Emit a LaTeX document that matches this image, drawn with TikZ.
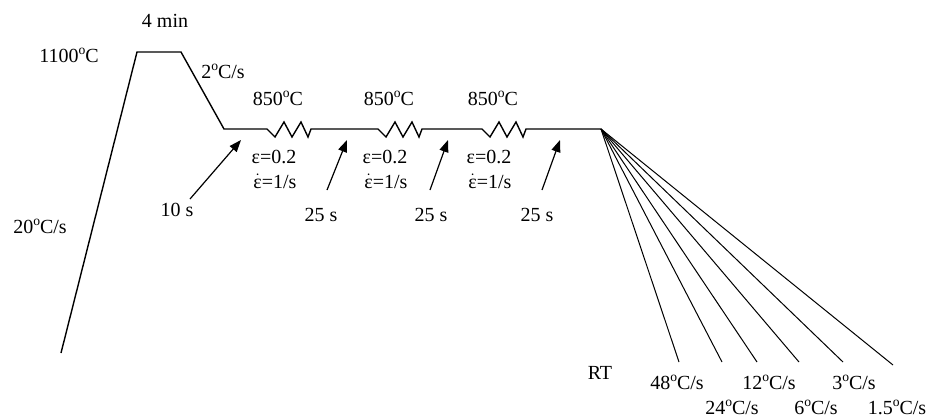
\documentclass[tikz,border=0pt]{standalone}
\usepackage{fontspec}
\setmainfont{Liberation Serif}
\usetikzlibrary{arrows.meta}
\newcommand{\dg}{\raisebox{0.4em}{\scalebox{0.68}{o}}}
\newcommand{\epsdot}{$\dot{\hbox{ε}}$}
\begin{document}
\begin{tikzpicture}[x=1bp,y=-1bp,
  profile/.style={line width=1.4bp, line join=miter},
  fanline/.style={line width=1bp},
  marker/.style={line width=1.2bp, -{Triangle[length=12bp,width=9bp]}},
  lbl/.style={anchor=base, inner sep=0pt, font=\fontsize{20bp}{24bp}\selectfont}]
\useasboundingbox (0,0) rectangle (930,419);

% key points of the thermal cycle
\coordinate (start) at (61,353);
\coordinate (top1) at (137,52);
\coordinate (top2) at (181,52);
\coordinate (hold) at (224,129);
\coordinate (qstart) at (601,129);

% heating, soaking, cooling to 850 and the three deformation passes
\draw[profile] (start) -- (top1) -- (top2) -- (hold) -- (267,129)
  -- (275,137) -- (284,122) -- (292,137) -- (301,122) -- (308,137) -- (311,129)
  -- (378,129)
  -- (386,137) -- (395,122) -- (403,137) -- (412,122) -- (419,137) -- (422,129)
  -- (482,129)
  -- (490,137) -- (499,122) -- (507,137) -- (516,122) -- (523,137) -- (526,129)
  -- (qstart);

% quench fan
\foreach \n/\x/\y in {a/679/362, b/722/362, c/757/362, d/799/362, e/843/362, f/893/365}{
  \coordinate (end\n) at (\x,\y);
  \draw[fanline] (qstart) -- (end\n);
}

% interpass time markers
\coordinate (t0) at (190,199);  \coordinate (h0) at (241,140);
\coordinate (t1) at (327,190);  \coordinate (h1) at (347,140);
\coordinate (t2) at (430,190);  \coordinate (h2) at (448,140);
\coordinate (t3) at (542,190);  \coordinate (h3) at (560,140);
\draw[marker] (t0) -- (h0);
\draw[marker] (t1) -- (h1);
\draw[marker] (t2) -- (h2);
\draw[marker] (t3) -- (h3);

% labels
\node[lbl] (lsoak) at (165,27) {4 min};
\node[lbl] (ltop) at (69,62) {1100\dg C};
\node[lbl] (lcool) at (223,78) {2\dg C/s};
\node[lbl] (lheat) at (40,233) {20\dg C/s};
\node[lbl] (l10) at (177,216) {10 s};
\foreach \i/\x in {1/278, 2/389, 3/493}{
  \node[lbl] (temp\i) at (\x,105) {850\dg C};
  \node[lbl] (strain\i) at (\x-4,163) {ε=0.2};
  \node[lbl] (rate\i) at (\x-3,188) {\epsdot=1/s};
}
\node[lbl] (l25a) at (321,221) {25 s};
\node[lbl] (l25b) at (431,221) {25 s};
\node[lbl] (l25c) at (537,221) {25 s};
\node[lbl] (lrt) at (600,379) {RT};
\node[lbl] (r48) at (677,389) {48\dg C/s};
\node[lbl] (r12) at (769,389) {12\dg C/s};
\node[lbl] (r3) at (854,389) {3\dg C/s};
\node[lbl] (r24) at (732,414) {24\dg C/s};
\node[lbl] (r6) at (816,414) {6\dg C/s};
\node[lbl] (r15) at (897,414) {1.5\dg C/s};
\end{tikzpicture}
\end{document}
